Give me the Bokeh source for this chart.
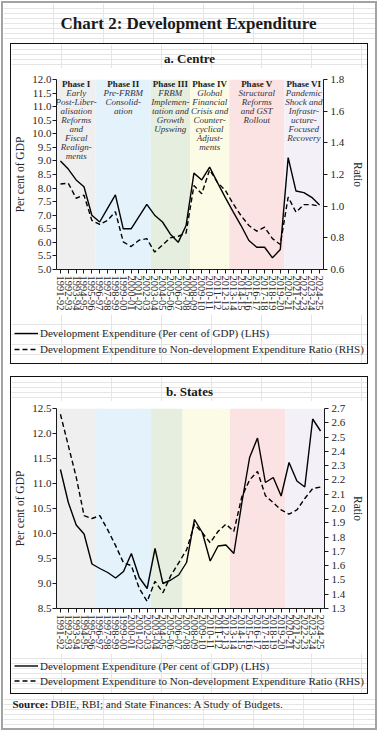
from bokeh.plotting import figure
from bokeh.models import (ColumnDataSource, Range1d, LinearAxis, FixedTicker,
                          PrintfTickFormatter, Legend, LegendItem)
from bokeh.layouts import column
from bokeh.embed import file_html
from bokeh.resources import INLINE
from bokeh.core.properties import value

# ---------------- data ----------------
chart_title = "Chart 2: Development Expenditure"
centre_title = "a. Centre"
states_title = "b. States"
source_bold = "Source:"
source_text = "DBIE, RBI; and State Finances: A Study of Budgets."
legend_gdp = "Development Expenditure (Per cent of GDP) (LHS)"
legend_ratio = "Development Expenditure to Non-development Expenditure Ratio (RHS)"
left_label = "Per cent of GDP"
right_label = "Ratio"

years = ["1991-92", "1992-93", "1993-94", "1994-95", "1995-96", "1996-97", "1997-98",
         "1998-99", "1999-00", "2000-01", "2001-02", "2002-03", "2003-04", "2004-05",
         "2005-06", "2006-07", "2007-08", "2008-09", "2009-10", "2010-11", "2011-12",
         "2012-13", "2013-14", "2014-15", "2015-16", "2016-17", "2017-18", "2018-19",
         "2019-20", "2020-21", "2021-22", "2022-23", "2023-24", "2024-25"]

centre_gdp = [9.0, 8.7, 8.3, 8.05, 7.0, 6.75, 7.25, 7.75, 6.5, 6.5, 6.95, 7.4, 7.0, 6.75,
              6.3, 6.0, 6.62, 8.55, 8.3, 8.77, 8.2, 7.65, 7.12, 6.62, 6.07, 5.82, 5.82,
              5.43, 5.74, 9.12, 7.89, 7.83, 7.66, 7.38]
centre_ratio = [1.14, 1.145, 1.05, 1.07, 0.91, 0.885, 0.91, 0.965, 0.775, 0.745, 0.785,
                0.795, 0.71, 0.755, 0.80, 0.81, 0.83, 1.13, 1.078, 1.23, 1.15, 1.10,
                1.015, 0.94, 0.878, 0.842, 0.867, 0.795, 0.758, 1.057, 0.962, 1.01, 1.01,
                1.0]

states_gdp = [11.28, 10.62, 10.17, 9.99, 9.39, 9.30, 9.22, 9.11, 9.24, 9.60, 9.12, 8.90,
              9.70, 9.00, 9.07, 9.17, 9.42, 10.28, 10.02, 9.45, 9.75, 9.77, 9.60, 10.6,
              11.52, 11.91, 11.02, 11.12, 10.75, 11.42, 11.05, 10.93, 12.29, 12.05]
states_ratio = [2.66, 2.44, 2.22, 1.95, 1.93, 1.95, 1.85, 1.74, 1.62, 1.60, 1.44, 1.35,
                1.49, 1.41, 1.53, 1.62, 1.71, 1.89, 1.83, 1.76, 1.84, 1.89, 1.84, 2.08,
                2.20, 2.26, 2.09, 2.04, 1.99, 1.96, 1.99, 2.07, 2.14, 2.15]

centre_left_ticks = [5.0, 5.5, 6.0, 6.5, 7.0, 7.5, 8.0, 8.5, 9.0, 9.5, 10.0, 10.5, 11.0,
                     11.5, 12.0]
centre_right_ticks = [0.6, 0.8, 1.0, 1.2, 1.4, 1.6, 1.8]
states_left_ticks = [8.5, 9.0, 9.5, 10.0, 10.5, 11.0, 11.5, 12.0, 12.5]
states_right_ticks = [1.3, 1.4, 1.5, 1.6, 1.7, 1.8, 1.9, 2.0, 2.1, 2.2, 2.3, 2.4, 2.5,
                      2.6, 2.7]

phase_titles = ["Phase I", "Phase II", "Phase III", "Phase IV", "Phase V", "Phase VI"]
phase_descriptions = [
    ["Early", "Post-Liber-", "alisation", "Reforms", "and", "Fiscal", "Realign-", "ments"],
    ["Pre-FRBM", "Consolid-", "ation"],
    ["FRBM", "Implemen-", "tation and", "Growth", "Upswing"],
    ["Global", "Financial", "Crisis and", "Counter-", "cyclical", "Adjust-", "ments"],
    ["Structural", "Reforms", "and GST", "Rollout"],
    ["Pandemic", "Shock and", "Infrastr-", "ucture-", "Focused", "Recovery"],
]
phase_colors = ["#efefef", "#e3f2fb", "#e5eedf", "#fcfce6", "#fce3e3", "#f3f0f7"]
centre_phase_first = ["1991-92", "1996-97", "2003-04", "2008-09", "2013-14", "2020-21"]
centre_phase_last = ["1995-96", "2002-03", "2007-08", "2012-13", "2019-20", "2024-25"]
states_phase_first = ["1991-92", "1996-97", "2003-04", "2007-08", "2013-14", "2020-21"]
states_phase_last = ["1995-96", "2002-03", "2006-07", "2012-13", "2019-20", "2024-25"]

# ---------------- styling ----------------
FONT = "Liberation Serif"
TXT = "#262626"
idx = list(range(len(years)))
NAN = float("nan")


def blank(w, h):
    q = figure(width=w, height=h, x_range=Range1d(0, w), y_range=Range1d(h, 0),
               toolbar_location=None, output_backend="svg", x_axis_location=None,
               y_axis_location=None, min_border=0, frame_align=False)
    q.outline_line_color = None
    return q


def style_axis(ax):
    ax.major_label_text_font = FONT
    ax.major_label_text_font_size = "11px"
    ax.major_label_text_color = TXT
    ax.axis_label_text_font = FONT
    ax.axis_label_text_font_size = "11.5px"
    ax.axis_label_text_font_style = "normal"
    ax.axis_label_text_color = TXT
    ax.axis_line_color = "#1a1a1a"
    ax.major_tick_line_color = "#1a1a1a"
    ax.minor_tick_line_color = None
    ax.major_tick_in = 0
    ax.major_tick_out = 4


def make_panel(gdp, ratio, yl, yr, lticks, rticks, pfirst, plast,
               w, h, borders, r_standoff, phase_text_y=None):
    p = figure(width=w, height=h, x_range=Range1d(-0.5, len(years) - 0.5),
               y_range=Range1d(*yl), toolbar_location=None, output_backend="svg",
               x_axis_location=None, y_axis_location=None, frame_align=False,
               min_border_left=borders[0], min_border_right=borders[1],
               min_border_top=borders[2], min_border_bottom=borders[3])
    p.extra_y_ranges = {"ratio": Range1d(*yr)}
    p.outline_line_color = None

    lefts = [years.index(f) - 0.5 for f in pfirst]
    rights = [years.index(l) + 0.5 for l in plast]
    bands = ColumnDataSource(dict(left=lefts, right=rights,
                                  bottom=[yl[0]] * len(lefts), top=[yl[1]] * len(lefts),
                                  color=phase_colors))
    p.quad(left="left", right="right", bottom="bottom", top="top", fill_color="color",
           line_color=None, source=bands)

    if phase_text_y is not None:
        hx, hy, ht = [], [], []
        bx, by, bo, bt = [], [], [], []
        for k, (t, desc) in enumerate(zip(phase_titles, phase_descriptions)):
            cx = (lefts[k] + rights[k]) / 2
            hx.append(cx); hy.append(phase_text_y); ht.append(t)
            for j, line in enumerate(desc):
                bx.append(cx); by.append(phase_text_y); bo.append(9 * (j + 1)); bt.append(line)
        p.text(x=hx, y=hy, text=ht, text_align="center", text_baseline="middle",
               text_font=value(FONT), text_font_size="9px", text_font_style="bold",
               text_color="#1a1a1a")
        p.text(x=bx, y=by, y_offset=bo, text=bt, text_align="center",
               text_baseline="middle", text_font=value(FONT), text_font_size="9px",
               text_font_style="italic", text_color="#333340")

    p.line(idx, gdp, line_color="black", line_width=1.4)
    p.line(idx, ratio, line_color="black", line_width=1.4, line_dash="5 3",
           y_range_name="ratio")

    xa = LinearAxis(ticker=FixedTicker(ticks=idx),
                    major_label_overrides={i: y for i, y in enumerate(years)})
    style_axis(xa)
    xa.major_label_orientation = "vertical"
    xa.major_label_text_font_size = "10.5px"
    xa.major_label_standoff = 2
    p.add_layout(xa, "below")

    la = LinearAxis(ticker=FixedTicker(ticks=lticks),
                    formatter=PrintfTickFormatter(format="%.1f"), axis_label=left_label)
    style_axis(la)
    la.major_label_standoff = 1
    la.axis_label_standoff = 3
    p.add_layout(la, "left")

    ra = LinearAxis(ticker=FixedTicker(ticks=rticks), y_range_name="ratio",
                    formatter=PrintfTickFormatter(format="%.1f"), axis_label=right_label)
    style_axis(ra)
    ra.major_label_standoff = 3
    ra.axis_label_standoff = r_standoff
    p.add_layout(ra, "right")
    return p


def make_title_strip(w, h, text, y):
    q = blank(w, h)
    q.text(x=[w / 2], y=[y], text=[text], text_align="center", text_baseline="middle",
           text_font=value(FONT), text_font_size="13px", text_font_style="bold",
           text_color="#1a1a1a")
    return q


def make_legend_strip(w, h, loc, row_h):
    q = blank(w, h)
    s1 = q.line(x=[NAN, NAN], y=[NAN, NAN], line_color="black", line_width=1.4)
    s2 = q.line(x=[NAN, NAN], y=[NAN, NAN], line_color="black", line_width=1.4,
                line_dash="5 3")
    leg = Legend(items=[LegendItem(label=legend_gdp, renderers=[s1]),
                        LegendItem(label=legend_ratio, renderers=[s2])],
                 location=loc, orientation="vertical", padding=0, spacing=0,
                 margin=0, label_text_font=FONT, label_text_font_size="11px",
                 label_text_color=TXT, label_height=row_h, glyph_height=row_h,
                 glyph_width=24, label_standoff=2, border_line_color=None,
                 background_fill_alpha=0)
    q.add_layout(leg)
    return q


# panel a (Centre)
ta = make_title_strip(356, 24, centre_title, 14)
pa = make_panel(centre_gdp, centre_ratio, (5, 12), (0.6, 1.8),
                centre_left_ticks, centre_right_ticks, centre_phase_first,
                centre_phase_last, 356, 246, (44, 40, 11, 45), 5,
                phase_text_y=11.82)
la_strip = make_legend_strip(356, 49, (3, 6), 16)
panel_a = column(ta, pa, la_strip, spacing=0)
panel_a.styles = {"outline": "1px solid #111"}
panel_a.margin = (1, 0, 0, 8)

# panel b (States)
tb = make_title_strip(356, 24, states_title, 14)
pb = make_panel(states_gdp, states_ratio, (8.5, 12.5), (1.3, 2.7),
                states_left_ticks, states_right_ticks, states_phase_first,
                states_phase_last, 356, 252, (43, 35, 7, 45), 4)
lb_strip = make_legend_strip(356, 40, (3, 5), 15)
panel_b = column(tb, pb, lb_strip, spacing=0)
panel_b.styles = {"outline": "1px solid #111"}
panel_b.margin = (14, 0, 0, 8)

# chart title
tf = blank(372, 40)
tf.text(x=[185], y=[20], text=[chart_title], text_align="center", text_baseline="middle",
        text_font=value(FONT), text_font_size="17px", text_font_style="bold",
        text_color="#1a1a1a")

# source note
sf = blank(372, 34)
sf.text(x=[9], y=[9], text=[source_bold], text_align="left", text_baseline="middle",
        text_font=value(FONT), text_font_size="11px", text_font_style="bold",
        text_color="#1a1a1a")
sf.text(x=[47], y=[9], text=[source_text], text_align="left", text_baseline="middle",
        text_font=value(FONT), text_font_size="11px", text_color=TXT)
sf.margin = (1, 0, 0, 0)

root = column(tf, panel_a, panel_b, sf, spacing=0)
root.styles = {"outline": "2px solid #a3a3a3", "margin": "3px 0px 0px 3px",
               "background-color": "white"}

open("out.html", "w").write(file_html(root, INLINE))
